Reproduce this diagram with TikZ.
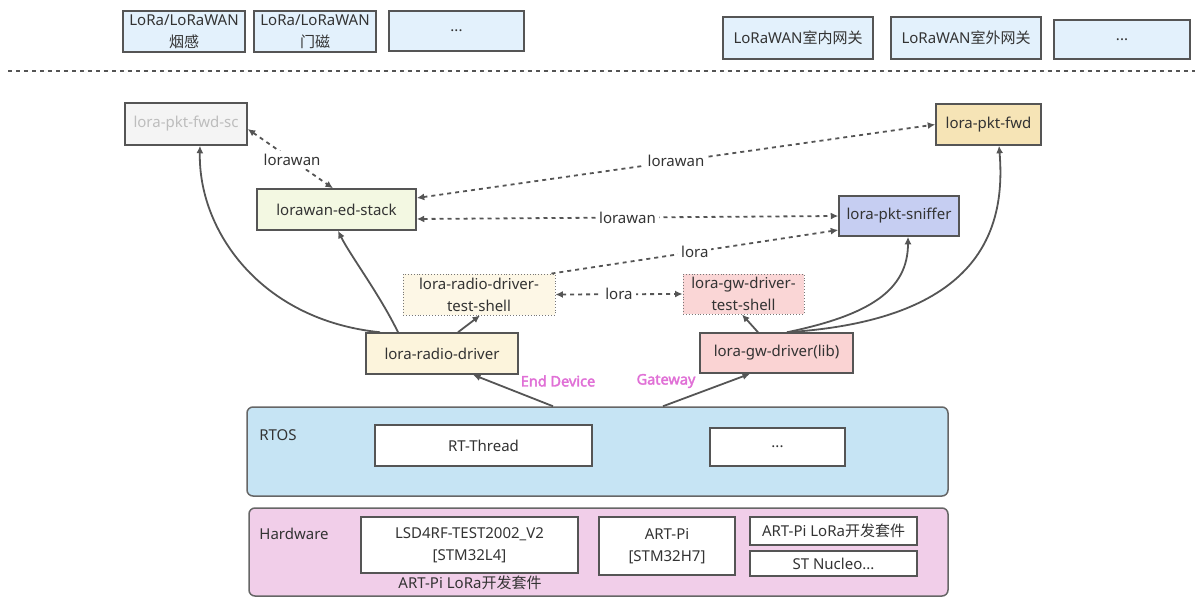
\documentclass[tikz,border=0pt]{standalone}
\usepackage{fontspec}
\setmainfont{Noto Sans}
\newfontfamily\cjk{Noto Sans CJK SC}
\newfontfamily\devfont{Noto Sans}[FakeBold=2.5]
\usetikzlibrary{arrows.meta}
\definecolor{bord}{HTML}{555555}
\definecolor{txt}{HTML}{333333}
\definecolor{topfill}{HTML}{E3F1FC}
\definecolor{scfill}{HTML}{F4F4F4}
\definecolor{sctxt}{HTML}{BDBDBD}
\definecolor{esfill}{HTML}{F3F8E2}
\definecolor{fwdfill}{HTML}{F6E4B6}
\definecolor{snfill}{HTML}{C6CEF2}
\definecolor{tsfill}{HTML}{FDF7E6}
\definecolor{gtsfill}{HTML}{FAD6D6}
\definecolor{rdfill}{HTML}{FCF4DC}
\definecolor{gwfill}{HTML}{FAD3D3}
\definecolor{rtosfill}{HTML}{C6E4F4}
\definecolor{hwfill}{HTML}{F1CEE9}
\definecolor{pinktxt}{HTML}{E070D6}
\newcommand\fsz{\fontsize{15}{22}\selectfont}
\newcommand\fsb{\fontsize{15}{22}\selectfont}
\begin{document}
\begin{tikzpicture}[x=1pt,y=-1pt,
  box/.style={draw=bord, line width=1.5pt, inner sep=0pt, text=txt, align=center, font=\fsz},
  dotbox/.style={draw=bord!80, line width=0.9pt, dotted, inner sep=0pt, text=txt, align=center, font=\fsz},
  layer/.style={draw=bord!90, line width=1.5pt, rounded corners=6pt},
  plain/.style={text=txt, font=\fsz, inner sep=1pt},
  lbl/.style={fill=white, text=txt, font=\fsz, inner sep=3pt},
  tip/.tip={Latex[length=7.5pt,width=7pt]},
  arr/.style={-tip, draw=bord, line width=1.8pt},
  darr/.style={tip-tip, draw=bord, line width=1.8pt, dash pattern=on 4pt off 4pt},
  sarr/.style={-tip, draw=bord, line width=1.8pt, dash pattern=on 4pt off 4pt},
  dev/.style={text=pinktxt, font=\fontsize{14.5}{16}\devfont, inner sep=1pt}
]
\useasboundingbox (0,0) rectangle (1200,602);

% top row
\node[box, fill=topfill, minimum width=122, minimum height=41] (t1) at (184,31.5) {LoRa/LoRaWAN\\{\cjk 烟感}};
\node[box, fill=topfill, minimum width=122, minimum height=41] (t2) at (315,31.5) {LoRa/LoRaWAN\\{\cjk 门磁}};
\node[box, fill=topfill, minimum width=135, minimum height=40] (t3) at (456.5,31) {...};
\node[box, fill=topfill, minimum width=150, minimum height=42] (t4) at (798,38) {LoRaWAN{\cjk 室内网关}};
\node[box, fill=topfill, minimum width=150, minimum height=42] (t5) at (966,38) {LoRaWAN{\cjk 室外网关}};
\node[box, fill=topfill, minimum width=136, minimum height=39] (t6) at (1122,39.5) {...};
\coordinate (sepL) at (8,71);
\coordinate (sepR) at (1195,71);
\draw[draw=bord, line width=1.8pt, dash pattern=on 4pt off 4pt] (sepL) -- (sepR);

% middle
\node[box, fill=scfill, text=sctxt, minimum width=122, minimum height=42] (sc) at (186,124) {lora-pkt-fwd-sc};
\node[box, fill=esfill, minimum width=159, minimum height=41] (es) at (336.5,209.5) {lorawan-ed-stack};
\node[box, fill=fwdfill, minimum width=105, minimum height=41] (fwd) at (988.5,124.5) {lora-pkt-fwd};
\node[box, fill=snfill, minimum width=120, minimum height=40] (sn) at (899,216) {lora-pkt-sniffer};
\node[dotbox, fill=tsfill, minimum width=152, minimum height=41] (ts) at (479,294.5) {lora-radio-driver-\\test-shell};
\node[dotbox, fill=gtsfill, minimum width=121, minimum height=40] (gts) at (743.5,294) {lora-gw-driver-\\test-shell};
\node[box, fill=rdfill, minimum width=152, minimum height=41] (rd) at (442,353.5) {lora-radio-driver};
\node[box, fill=gwfill, minimum width=153, minimum height=40] (gw) at (776.5,353) {lora-gw-driver(lib)};
\node[dev] (edl) at (558,381) {End Device};
\node[dev] (gwl) at (666,381) {Gateway};

% bottom layers
\node[layer, fill=rtosfill, minimum width=701, minimum height=89, inner sep=0pt] (rtos) at (597.5,451.5) {};
\node[plain, font=\fsb] (rtosl) at (278,435) {RTOS};
\node[box, fill=white, font=\fsb, minimum width=217, minimum height=41] (rtt) at (483.5,445.5) {RT-Thread};
\node[box, fill=white, font=\fsb, minimum width=135, minimum height=38] (rdots) at (777.5,447) {...};
\node[layer, fill=hwfill, minimum width=699, minimum height=88, inner sep=0pt] (hw) at (598.5,552) {};
\node[plain, font=\fsb] (hwl) at (294,534) {Hardware};
\node[box, fill=white, font=\fsb, minimum width=217, minimum height=56] (lsd) at (469.5,545) {LSD4RF-TEST2002\_V2\\{[STM32L4]}};
\node[plain, font=\fsb] (lsdc) at (470,583) {ART-Pi LoRa{\cjk 开发套件}};
\node[box, fill=white, font=\fsb, minimum width=136, minimum height=58] (art) at (667,546) {ART-Pi\\{[STM32H7]}};
\node[box, fill=white, font=\fsb, minimum width=167, minimum height=28] (kit) at (833.5,531) {ART-Pi LoRa{\cjk 开发套件}};
\node[box, fill=white, font=\fsb, minimum width=167, minimum height=25] (nuc) at (833.5,563.5) {ST Nucleo...};

% solid arrows
\draw[arr] ([xshift=-44.5]rtos.north) -- ([xshift=31]rd.south);
\draw[arr] ([xshift=65.5]rtos.north) -- ([xshift=-26.5]gw.south);
\draw[arr] ([xshift=16]rd.north) -- ([xshift=1]ts.south);
\draw[arr] ([xshift=-18.5]gw.north) -- ([xshift=-1.5]gts.south);
\draw[arr] ([xshift=-44]rd.north) .. controls (380,295) and (350,255) .. ([xshift=1.5]es.south);
\draw[arr] ([xshift=-62]rd.north) .. controls (260,320) and (198,230) .. ([xshift=14]sc.south);
\draw[arr] ([xshift=10.5]gw.north) .. controls (870,315) and (908,290) .. ([xshift=9]sn.south);
\draw[arr] ([xshift=10.5]gw.north) .. controls (980,320) and (1006,230) .. ([xshift=10.5]fwd.south);

% dashed arrows
\draw[darr] ([yshift=-5]sc.east) -- node[lbl, pos=0.52] (l1) {lorawan} ([xshift=-3.5]es.north);
\draw[darr] ([yshift=11.5]es.east) -- node[lbl, midway] (l2) {lorawan} (fwd.west);
\draw[darr] ([yshift=-9.5]es.east) -- node[lbl, midway] (l3) {lorawan} (sn.west);
\draw[sarr] ([xshift=-4]ts.north east) -- node[lbl, midway] (l4) {lora} ([yshift=-14]sn.west);
\draw[darr] (ts.east) -- node[lbl, midway] (l5) {lora} (gts.west);
\end{tikzpicture}
\end{document}
